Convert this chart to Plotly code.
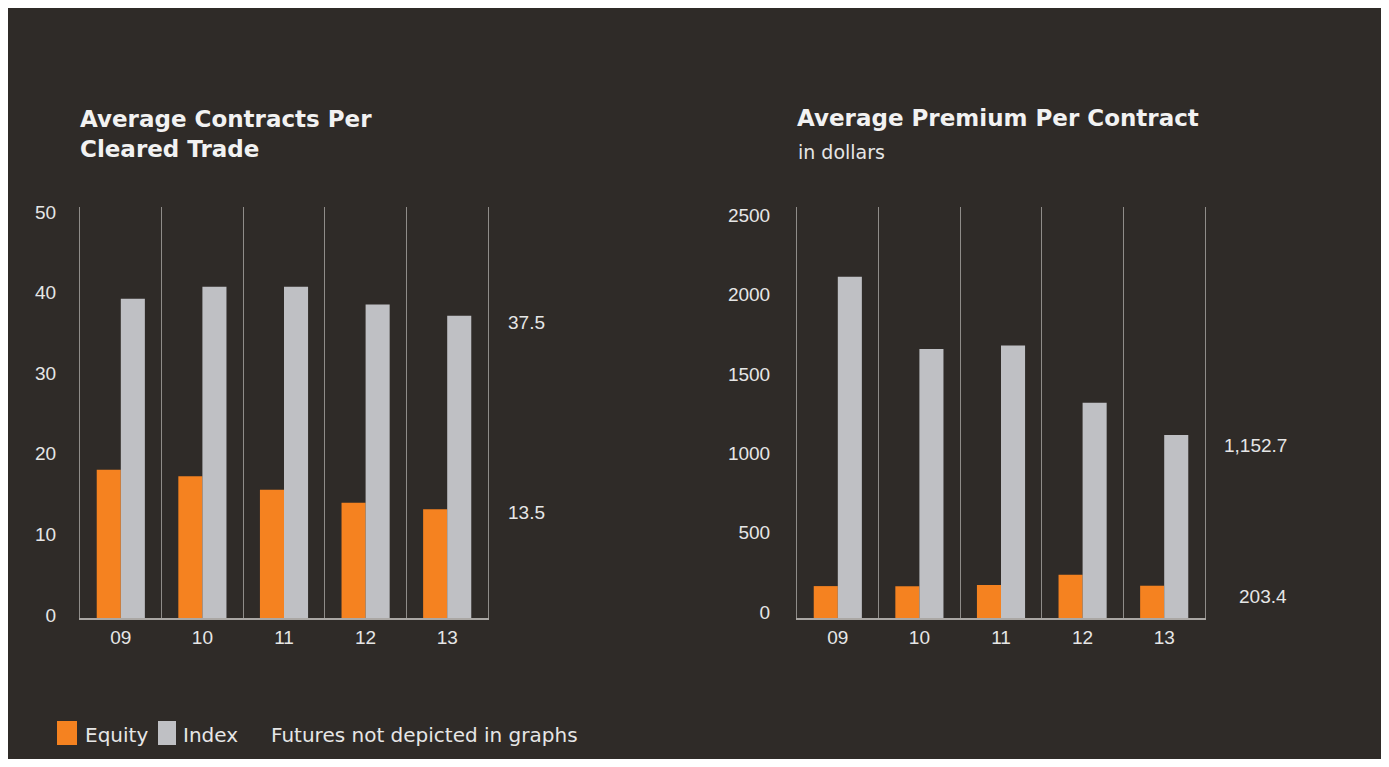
import plotly.graph_objects as go

# ---- data ----
years = ["09", "10", "11", "12", "13"]
contracts_equity = [18.4, 17.6, 15.9, 14.3, 13.5]
contracts_index = [39.6, 41.1, 41.1, 38.9, 37.5]
premium_equity = [201, 200, 208, 272, 203.4]
premium_index = [2150, 1695, 1718, 1356, 1152.7]
series_names = ["Equity", "Index"]
left_ticks = [0, 10, 20, 30, 40, 50]
right_ticks = [0, 500, 1000, 1500, 2000, 2500]
left_title = "Average Contracts Per<br>Cleared Trade"
right_title = "Average Premium Per Contract"
right_subtitle = "in dollars"
footnote = "Futures not depicted in graphs"

# ---- style ----
PAGE_MARGIN = 8              # browser default body margin
W, H = 1389 - 2 * PAGE_MARGIN, 767 - 2 * PAGE_MARGIN
BG = "#2f2b28"
ORANGE = "#f58220"
GRAY = "#bfc0c4"
LINE = "#8f8c89"
TEXT = "#e6e6e6"
NUMFONT = "Liberation Sans"
WORDFONT = "DejaVu Sans"
COLORS = [ORANGE, GRAY]


def px(x):
    """window pixel x -> paper fraction"""
    return (x - PAGE_MARGIN) / W


def py(y):
    """window pixel y -> paper fraction"""
    return 1 - (y - PAGE_MARGIN) / H


fig = go.Figure()

for name, color, vals in zip(series_names, COLORS, [contracts_equity, contracts_index]):
    fig.add_trace(go.Bar(x=years, y=vals, name=name, marker=dict(color=color, line=dict(width=0)),
                         xaxis="x", yaxis="y", showlegend=False))
for name, color, vals in zip(series_names, COLORS, [premium_equity, premium_index]):
    fig.add_trace(go.Bar(x=years, y=vals, name=name, marker=dict(color=color, line=dict(width=0)),
                         xaxis="x2", yaxis="y2", showlegend=False))

ydom = [py(618), py(207)]

xaxis_common = dict(
    type="category", tickson="boundaries", showgrid=True, gridcolor=LINE,
    gridwidth=1, showline=True, linecolor="#aaa7a4", linewidth=2,
    ticks="", tickfont=dict(family=NUMFONT, size=19, color=TEXT),
    ticklabelstandoff=1, zeroline=False, fixedrange=True, automargin=False,
)
yaxis_common = dict(
    showgrid=False, zeroline=False, showline=True, linecolor=LINE, linewidth=1,
    mirror=True, ticks="", tickfont=dict(family=NUMFONT, size=19, color=TEXT),
    fixedrange=True, automargin=False,
)

fig.update_layout(
    template="none",
    width=W, height=H, autosize=False,
    margin=dict(l=0, r=0, t=0, b=0, pad=0, autoexpand=False),
    paper_bgcolor=BG,
    plot_bgcolor=BG,
    barmode="group", bargap=0.41, bargroupgap=0,
    xaxis=dict(domain=[px(80), px(488)], anchor="y", **xaxis_common),
    yaxis=dict(domain=ydom, anchor="x", range=[0, 51], tickvals=left_ticks,
               ticklabelshift=-3, ticklabelstandoff=19, **yaxis_common),
    xaxis2=dict(domain=[px(797), px(1205)], anchor="y2", **xaxis_common),
    yaxis2=dict(domain=ydom, anchor="x2", range=[0, 2590], tickvals=right_ticks,
                ticklabelshift=-6, ticklabelstandoff=22, **yaxis_common),
    showlegend=False,
    font=dict(family=NUMFONT, color=TEXT),
)

# legend swatches + labels
legend_items = [(57, 77, 83), (158, 176, 181)]
for (x0, x1, tx), name, color in zip(legend_items, series_names, COLORS):
    fig.add_shape(type="rect", xref="paper", yref="paper", x0=px(x0), x1=px(x1),
                  y0=py(745), y1=py(721), fillcolor=color, line=dict(width=0))
    fig.add_annotation(text=name, xref="paper", yref="paper", x=px(tx), y=py(735),
                       xanchor="left", yanchor="middle", showarrow=False,
                       font=dict(family=WORDFONT, size=20, color=TEXT))

anns = [
    dict(text=f"<b>{left_title}</b>", x=px(78), y=py(134), xanchor="left", yanchor="middle",
         align="left", font=dict(family=WORDFONT, size=23, color="#f2f2f2")),
    dict(text=f"<b>{right_title}</b>", x=px(795), y=py(118), xanchor="left", yanchor="middle",
         align="left", font=dict(family=WORDFONT, size=23, color="#f2f2f2")),
    dict(text=right_subtitle, x=px(796), y=py(152), xanchor="left", yanchor="middle",
         font=dict(family=WORDFONT, size=19, color=TEXT)),
    dict(text=footnote, x=px(269), y=py(735), xanchor="left", yanchor="middle",
         font=dict(family=WORDFONT, size=20, color=TEXT)),
]
for a in anns:
    a.update(xref="paper", yref="paper", showarrow=False)
    fig.add_annotation(**a)

# end-value labels
for val, yref, xpos, shift in [
    (contracts_index[-1], "y", 547, -7), (contracts_equity[-1], "y", 547, -3),
    (premium_index[-1], "y2", 1289, -10), (premium_equity[-1], "y2", 1289, -11),
]:
    fig.add_annotation(text=f"{val:,.1f}", xref="paper", yref=yref, x=px(xpos), y=val,
                       xanchor="right", yanchor="middle", yshift=shift, showarrow=False,
                       font=dict(family=NUMFONT, size=19, color=TEXT))

fig.write_html("out.html", config={"displayModeBar": False})
